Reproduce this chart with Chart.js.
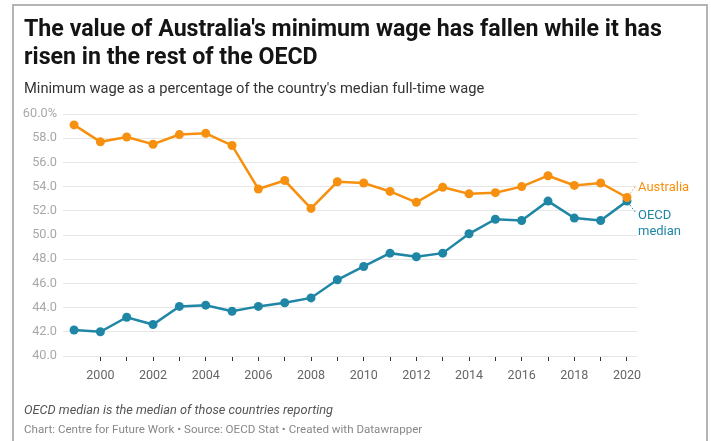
<!DOCTYPE html>
<html>
<head>
<meta charset="utf-8">
<script src="https://cdn.jsdelivr.net/npm/chart.js@4/dist/chart.umd.min.js"></script>
<style>
  html, body { margin: 0; padding: 0; background: #fff; }
  body { width: 711px; height: 441px; position: relative; overflow: hidden; font-family: Roboto, "Noto Sans", sans-serif; }
  .frame { position: absolute; left: 12px; top: 4px; width: 692px; height: 460px;
           border: 2px solid #b4b4b4; border-bottom: none; }
  canvas { position: absolute; left: 0; top: 0; }
  .title { position: absolute; left: 24px; top: 14px; width: 668px; font-size: 23.2px; font-weight: 700;
           line-height: 28px; color: #141414; }
  .subtitle { position: absolute; left: 24px; top: 79px; font-size: 14.7px; color: #333; }
  .note { position: absolute; left: 24px; top: 402px; font-size: 12.75px; font-style: italic; color: #555; }
  .credit { position: absolute; left: 24px; top: 422px; font-size: 11.6px; color: #888; }
</style>
</head>
<body>
<div class="frame"></div>
<canvas id="chart" width="711" height="441"></canvas>
<div class="title">The value of Australia's minimum wage has fallen while it has risen in the rest of the OECD</div>
<div class="subtitle">Minimum wage as a percentage of the country's median full-time wage</div>
<div class="note">OECD median is the median of those countries reporting</div>
<div class="credit">Chart: Centre for Future Work • Source: OECD Stat • Created with Datawrapper</div>
<script>
// Minimum wage as % of median full-time wage, 1999–2020
const years = [1999, 2000, 2001, 2002, 2003, 2004, 2005, 2006, 2007, 2008, 2009,
               2010, 2011, 2012, 2013, 2014, 2015, 2016, 2017, 2018, 2019, 2020];
const australia = [59.1, 57.7, 58.1, 57.5, 58.3, 58.4, 57.4, 53.8, 54.5, 52.2, 54.4,
                   54.3, 53.6, 52.7, 53.95, 53.4, 53.5, 54.0, 54.9, 54.1, 54.3, 53.1];
const oecdMedian = [42.15, 42.0, 43.2, 42.6, 44.1, 44.2, 43.7, 44.1, 44.4, 44.8, 46.3,
                    47.4, 48.5, 48.2, 48.5, 50.1, 51.3, 51.2, 52.8, 51.4, 51.2, 52.8];
const tickYears = [2000, 2001, 2002, 2003, 2004, 2005, 2006, 2007, 2008, 2009, 2010,
                   2011, 2012, 2013, 2014, 2015, 2016, 2017, 2018, 2019, 2020];
const labelYears = ['2000', '2002', '2004', '2006', '2008', '2010', '2012', '2014', '2016', '2018', '2020'];
const seriesNames = ['Australia', 'OECD median'];

const ORANGE = '#f7900f';
const TEAL = '#1f86a5';

// Direct labels next to the last point of each line, joined by a dotted leader
const endLabels = {
  id: 'endLabels',
  afterDatasetsDraw(chart) {
    const ctx = chart.ctx;
    const a = chart.getDatasetMeta(0).data.at(-1);
    const o = chart.getDatasetMeta(1).data.at(-1);
    ctx.save();
    ctx.lineWidth = 1;
    ctx.setLineDash([1.5, 2]);
    ctx.strokeStyle = ORANGE;
    ctx.beginPath(); ctx.moveTo(a.x + 3, a.y - 4); ctx.lineTo(a.x + 9, a.y - 12); ctx.stroke();
    ctx.strokeStyle = TEAL;
    ctx.beginPath(); ctx.moveTo(o.x + 3, o.y + 4); ctx.lineTo(o.x + 9, o.y + 12); ctx.stroke();
    ctx.setLineDash([]);
    ctx.font = '13px Roboto, sans-serif';
    ctx.textAlign = 'left';
    ctx.textBaseline = 'middle';
    ctx.fillStyle = ORANGE;
    ctx.fillText(seriesNames[0], a.x + 11, a.y - 10);
    ctx.fillStyle = TEAL;
    const words = seriesNames[1].split(' ');
    ctx.fillText(words[0], o.x + 11, o.y + 15);
    ctx.fillText(words[1], o.x + 11, o.y + 31);
    ctx.restore();
  }
};

const toPoints = arr => years.map((yr, i) => ({ x: yr, y: arr[i] }));

new Chart(document.getElementById('chart'), {
  type: 'line',
  data: {
    datasets: [
      { label: seriesNames[0], data: toPoints(australia), borderColor: ORANGE, backgroundColor: ORANGE,
        borderWidth: 2.5, pointRadius: 4.5, pointBorderWidth: 0, tension: 0 },
      { label: seriesNames[1], data: toPoints(oecdMedian), borderColor: TEAL, backgroundColor: TEAL,
        borderWidth: 2.5, pointRadius: 4.5, pointBorderWidth: 0, tension: 0 }
    ]
  },
  options: {
    responsive: false,
    animation: false,
    layout: { padding: { left: 13, top: 114, right: 74, bottom: 55 } },
    plugins: { legend: { display: false }, tooltip: { enabled: false } },
    scales: {
      x: {
        type: 'linear',
        min: 1998.58,
        max: 2020.38,
        afterBuildTicks: s => { s.ticks = tickYears.map(v => ({ value: v })); },
        afterFit: s => { s.height = 30; },
        ticks: {
          autoSkip: false, maxRotation: 0, padding: 7,
          color: '#666', font: { family: 'Roboto', size: 12.5 },
          callback: v => labelYears.includes(String(v)) ? String(v) : ''
        },
        grid: { drawOnChartArea: false, drawTicks: true, tickLength: 5, tickColor: '#333', tickWidth: 1 },
        border: { display: false }
      },
      y: {
        min: 40, max: 60,
        afterFit: s => { s.width = 50; },
        ticks: {
          stepSize: 2, padding: 6,
          color: '#a8a8a8', font: { family: 'Roboto', size: 12.75 },
          callback: v => v === 60 ? v.toFixed(1) + '%' : v.toFixed(1)
        },
        grid: { color: '#e6e6e6', lineWidth: 1, drawTicks: false },
        border: { display: false }
      }
    }
  },
  plugins: [endLabels]
});
</script>
</body>
</html>
